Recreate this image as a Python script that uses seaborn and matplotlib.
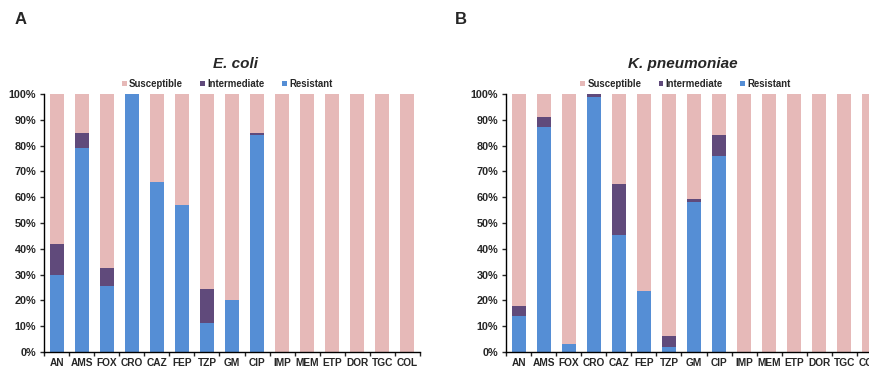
import numpy as np
import pandas as pd
import matplotlib
matplotlib.use("Agg")
import matplotlib.pyplot as plt
import seaborn as sns

drugs = ["AN", "AMS", "FOX", "CRO", "CAZ", "FEP", "TZP", "GM", "CIP",
         "IMP", "MEM", "ETP", "DOR", "TGC", "COL"]

# % resistant / intermediate (susceptible is the remainder)
ecoli_res = [30, 79, 25.4, 100, 65.7, 56.9, 11.2, 20.1, 84.1, 0, 0, 0, 0, 0, 0]
ecoli_int = [12, 6, 7, 0, 0, 0, 13.3, 0, 0.9, 0, 0, 0, 0, 0, 0]
kpn_res = [13.8, 87.1, 3.0, 99, 45.4, 23.7, 2.1, 58.3, 76.1, 0, 0, 0, 0, 0, 0]
kpn_int = [4.1, 3.9, 0, 1, 19.9, 0, 4.0, 0.9, 7.9, 0, 0, 0, 0, 0, 0]

c_sus = "#E6B9B8"
c_int = "#604A7B"
c_res = "#558ED5"

sns.set_style("white")
plt.rcParams["font.family"] = ["Liberation Sans", "DejaVu Sans"]
plt.rcParams["font.weight"] = "bold"

fig = plt.figure(figsize=(8.7, 3.69), dpi=100)
ax1 = fig.add_axes([44 / 870, 1 - 352 / 369, 376 / 870, 258 / 369])
ax2 = fig.add_axes([506 / 870, 1 - 352 / 369, 376 / 870, 258 / 369])


def panel(ax, res, inter, title, tx, lx):
    df = pd.DataFrame({"drug": drugs, "res": res, "int": inter})
    df["sus"] = 100 - df["res"] - df["int"]
    df["ri"] = df["res"] + df["int"]
    df["all"] = df["ri"] + df["sus"]
    kw = dict(data=df, x="drug", order=drugs, width=0.56, ax=ax,
              saturation=1, linewidth=0, edgecolor="none")
    sns.barplot(y="all", color=c_sus, label="Susceptible", **kw)
    sns.barplot(y="ri", color=c_int, label="Intermediate", **kw)
    sns.barplot(y="res", color=c_res, label="Resistant", **kw)
    ax.set_ylim(0, 100)
    ax.set_xlim(-0.5, len(drugs) - 0.5)
    ax.set_yticks(np.arange(0, 101, 10))
    ax.set_yticklabels([f"{v}%" for v in range(0, 101, 10)], fontsize=7.8, fontweight="bold")
    ax.set_xticks(range(len(drugs)))
    ax.set_xticklabels(drugs, fontsize=7.3, fontweight="bold")
    ax.tick_params(axis="x", length=0, pad=4.5)
    ax.set_xticks(np.arange(-0.5, len(drugs), 1), minor=True)
    ax.tick_params(axis="x", which="minor", length=3, width=1, direction="out", bottom=True)
    ax.tick_params(axis="y", length=3, width=1, direction="out", left=True, pad=2.5)
    ax.set_xlabel("")
    ax.set_ylabel("")
    sns.despine(ax=ax)
    for s in ["left", "bottom"]:
        ax.spines[s].set_color("black")
        ax.spines[s].set_linewidth(1)
    ax.set_title(title, fontsize=11, fontweight="bold", fontstyle="italic", pad=19, x=tx)
    ax.legend(loc="center", bbox_to_anchor=(lx, 1.04), ncol=3, frameon=False,
              fontsize=6.9, handlelength=0.5, handleheight=0.5, handletextpad=0.25,
              columnspacing=1.8, borderaxespad=0)


panel(ax1, ecoli_res, ecoli_int, "E. coli", 0.508, 0.487)
panel(ax2, kpn_res, kpn_int, "K. pneumoniae", 0.471, 0.477)

fig.text(15 / 870, 1 - 20 / 369, "A", fontsize=12, fontweight="bold", va="center")
fig.text(455 / 870, 1 - 20 / 369, "B", fontsize=12, fontweight="bold", va="center")

fig.savefig("out.png", dpi=100)
